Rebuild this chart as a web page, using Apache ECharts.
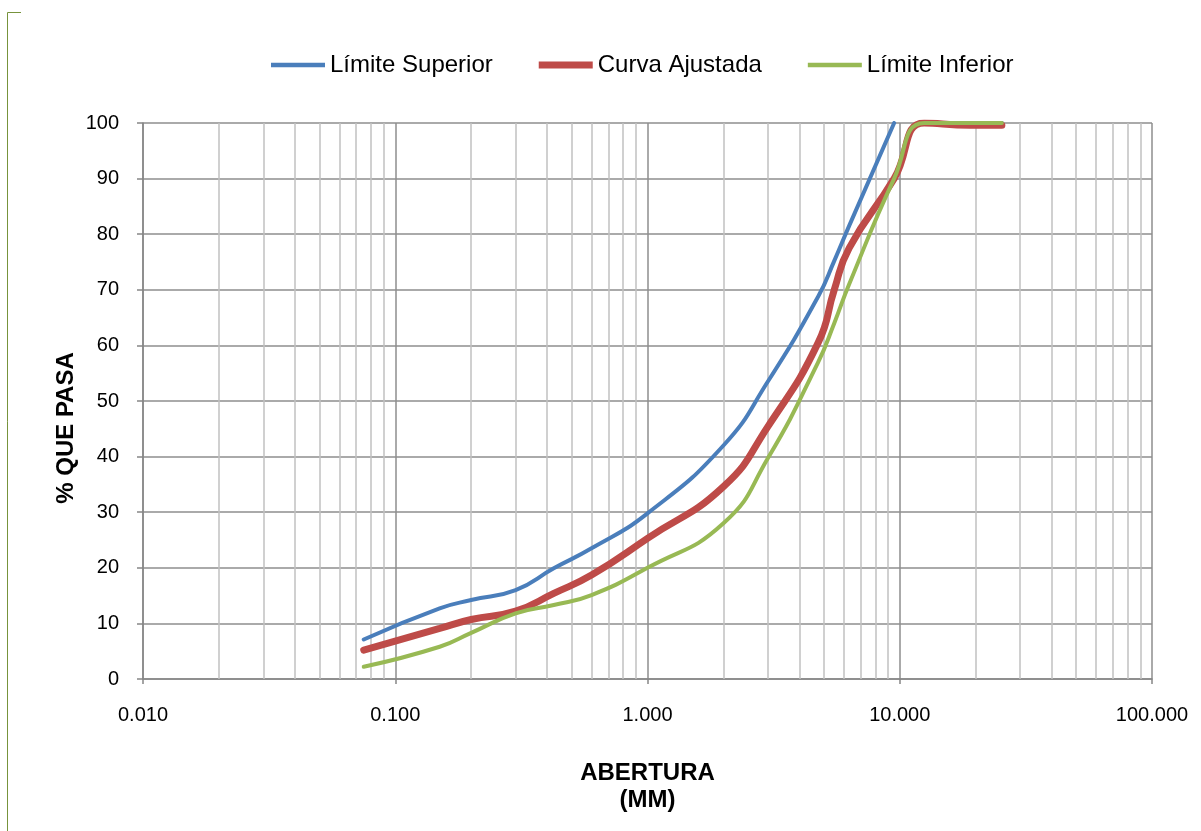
<!DOCTYPE html>
<html>
<head>
<meta charset="utf-8">
<script src="https://cdn.jsdelivr.net/npm/echarts@6/dist/echarts.min.js"></script>
<style>
html,body{margin:0;padding:0;background:#fff;}
#chart{width:1201px;height:831px;}
</style>
</head>
<body>
<div id="chart"></div>
<script>
// Sieve openings (mm)
const sizes = [0.075, 0.15, 0.2, 0.3, 0.425, 0.6, 1.0, 2.0, 3.0, 4.75, 5.5, 6.3, 9.5, 12.5, 19, 25.4];
// % passing (null = point not drawn as part of the rising curve)
const upperLimit = [7.1, 12.7, 14.2, 16.0, 19.9, 23.5, 29.8, 42.0, 53.5, 68.8, 75.2, 81.5, 100, null, 100, 100];
const fittedCurve = [5.2, 9.1, 10.7, 12.2, 15.4, 18.7, 25.3, 34.6, 45.4, 60.5, 70.0, 77.5, 90.0, 100, 99.6, 99.6];
const lowerLimit = [2.2, 5.8, 8.3, 11.8, 13.3, 15.1, 20.0, 28.0, 39.7, 57.0, 64.0, 71.0, 90.0, 100, 100, 100];
const seriesNames = ['Límite Superior', 'Curva Ajustada', 'Límite Inferior'];
const seriesColors = ['#4a7ebb', '#be4b48', '#98b954'];
const seriesWidths = [4, 7, 4];
// minor log gridline positions
const minorTicks = [0.02,0.03,0.04,0.05,0.06,0.07,0.08,0.09,
  0.2,0.3,0.4,0.5,0.6,0.7,0.8,0.9,
  2,3,4,5,6,7,8,9,
  20,30,40,50,60,70,80,90];

const FONT = "'Liberation Sans', Arial, sans-serif";
const pairs = (ys) => sizes.map((s, i) => [s, ys[i]]);
const barIcon = (h) => 'path://M0,0 L54,0 L54,' + h + ' L0,' + h + ' Z';

const chart = echarts.init(document.getElementById('chart'), null, {renderer: 'canvas'});
chart.setOption({
  animation: false,
  backgroundColor: '#ffffff',
  textStyle: {fontFamily: FONT},
  grid: {left: 143, right: 49, top: 123, bottom: 152, containLabel: false},
  legend: {
    data: seriesNames.map((n, i) => ({name: n, icon: barIcon(seriesWidths[i] === 7 ? 7 : 4.5),
      itemStyle: {color: seriesColors[i]}})),
    left: 266, top: 48,
    itemWidth: 54, itemHeight: 14, itemGap: 46,
    textStyle: {fontFamily: FONT, fontSize: 24, color: '#000'}
  },
  xAxis: {
    type: 'log', logBase: 10, min: 0.01, max: 100,
    name: 'ABERTURA\n(MM)', nameLocation: 'middle', nameGap: 81,
    nameTextStyle: {fontFamily: FONT, fontSize: 24, fontWeight: 'bold', color: '#000', lineHeight: 27},
    axisLine: {lineStyle: {color: '#868686', width: 1.5}},
    axisTick: {show: true, length: 5, lineStyle: {color: '#868686', width: 1.5}},
    axisLabel: {fontFamily: FONT, fontSize: 20, color: '#000', margin: 26,
      formatter: v => Number(v).toFixed(3)},
    splitLine: {show: true, lineStyle: {color: '#8e8e8e', width: 1.5}}
  },
  yAxis: {
    type: 'value', min: 0, max: 100, interval: 10,
    axisLine: {show: true, lineStyle: {color: '#868686', width: 1.5}},
    axisTick: {show: true, length: 6, lineStyle: {color: '#868686', width: 1.5}},
    axisLabel: {fontFamily: FONT, fontSize: 20, color: '#000', margin: 24},
    splitLine: {show: true, lineStyle: {color: '#8e8e8e', width: 1.5}}
  },
  graphic: [
    {type: 'polyline', silent: true, z: 100,
      shape: {points: [[21, 12.5], [7.5, 12.5], [7.5, 831]]},
      style: {stroke: '#77933c', lineWidth: 1, fill: null}},
    {type: 'text', x: 66, y: 428, rotation: Math.PI / 2, silent: true,
      style: {text: '% QUE PASA', font: "bold 24px 'Liberation Sans', Arial, sans-serif",
        fill: '#000', align: 'center', verticalAlign: 'middle'}}
  ],
  series: [
    {
      name: 'minor', type: 'line', data: [], silent: true, z: 1,
      markLine: {
        silent: true, symbol: ['none', 'none'], z: 1,
        label: {show: false},
        lineStyle: {color: '#c0c0c0', type: 'solid', width: 1.5},
        emphasis: {disabled: true},
        data: minorTicks.map(v => ({xAxis: v}))
      }
    }
  ].concat([upperLimit, fittedCurve, lowerLimit].map((ys, i) => ({
      name: seriesNames[i], type: 'line', data: pairs(ys), z: 4 + i,
      smooth: 0.5, symbol: 'none', showSymbol: false, connectNulls: false,
      lineStyle: {color: seriesColors[i], width: seriesWidths[i], cap: 'round'},
      itemStyle: {color: seriesColors[i]}
  })))
});
</script>
</body>
</html>
